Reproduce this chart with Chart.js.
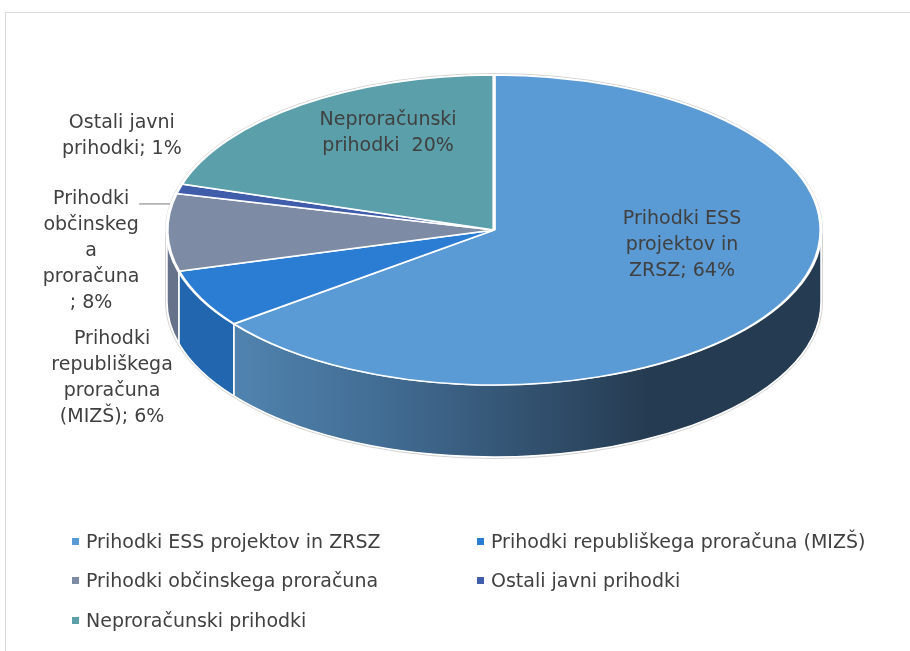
<!DOCTYPE html>
<html>
<head>
<meta charset="utf-8">
<script src="https://cdn.jsdelivr.net/npm/chart.js@4.4.1/dist/chart.umd.min.js"></script>
<style>
    body { margin: 0; background: #ffffff; }
    #wrap { position: relative; width: 910px; height: 651px; overflow: hidden; }
    #frame { position: absolute; left: 5px; top: 12px; width: 1000px; height: 1000px; border: 1.5px solid #d9d9d9; }
    #pieChart { position: absolute; left: 0; top: 0; }
    #legend { position: absolute; left: 0; top: 0; font-family: "DejaVu Sans", sans-serif; font-size: 19px; color: #404040; }
    .item { position: absolute; white-space: nowrap; line-height: 22px; }
    .box { position: absolute; width: 7px; height: 7px; left: -14px; top: 8px; }
</style>
</head>
<body>
<div id="wrap">
    <div id="frame"></div>
    <canvas id="pieChart" width="910" height="651"></canvas>
    <div id="legend"></div>
</div>
<script>
const categories = [
    "Prihodki ESS projektov in ZRSZ",
    "Prihodki republiškega proračuna (MIZŠ)",
    "Prihodki občinskega proračuna",
    "Ostali javni prihodki",
    "Neproračunski prihodki"
];
const values = [64, 6, 8, 1, 20];
// data label lines as wrapped in the original, {v} = value
const labelLines = [
    ["Prihodki ESS", "projektov in", "ZRSZ; {v}%"],
    ["Prihodki", "republiškega", "proračuna", "(MIZŠ); {v}%"],
    ["Prihodki", "občinskeg", "a", "proračuna", "; {v}%"],
    ["Ostali javni", "prihodki; {v}%"],
    ["Neproračunski", "prihodki  {v}%"]
];
const topColors = ["#5b9bd5", "#2b7cd3", "#7d8ba4", "#3f5dab", "#5a9fa9"];
const sideColors = [null, "#2266b0", "#65728a", "#2f4a8a", "#477f88"];

// where the tilted pie sits on the page
const pie = { cx: 494, cy: 230, rx: 327, ry: 155, depth: 72 };

// label anchors in units of rx / ry from the pie centre
const labelPos = [
    { dx: 0.575, dy: 0.10 },
    { dx: -1.168, dy: 0.955 },
    { dx: -1.232, dy: 0.135 },
    { dx: -1.138, dy: -0.606 },
    { dx: -0.324, dy: -0.626 }
];

const tiltPlugin = {
    id: "tilt",
    beforeDatasetsDraw(chart) {
        const ctx = chart.ctx;
        const arcs = chart.getDatasetMeta(0).data;
        const { cx, cy, rx, ry, depth } = pie;

        // side walls, only the front half is visible
        arcs.forEach((arc, i) => {
            const a0 = Math.max(arc.startAngle, 0);
            const a1 = Math.min(arc.endAngle, Math.PI);
            if (a1 <= a0) return;
            ctx.save();
            ctx.beginPath();
            ctx.ellipse(cx, cy, rx, ry, 0, a0, a1, false);
            ctx.ellipse(cx, cy + depth, rx, ry, 0, a1, a0, true);
            ctx.closePath();
            if (i === 0) {
                const g = ctx.createLinearGradient(200, 0, 650, 0);
                g.addColorStop(0, "#5389b6");
                g.addColorStop(0.45, "#40698f");
                g.addColorStop(1, "#253b51");
                ctx.fillStyle = g;
            } else {
                ctx.fillStyle = sideColors[i];
            }
            ctx.fill();
            ctx.strokeStyle = "#ffffff";
            ctx.lineWidth = 1.5;
            ctx.stroke();
            ctx.restore();
        });

        // faint outline of the whole body
        ctx.save();
        ctx.beginPath();
        ctx.ellipse(cx, cy, rx + 1.5, ry + 1.5, 0, Math.PI, 0, false);
        ctx.ellipse(cx, cy + depth, rx + 1.5, ry + 1.5, 0, 0, Math.PI, false);
        ctx.closePath();
        ctx.strokeStyle = "#d4d4d4";
        ctx.lineWidth = 1;
        ctx.stroke();
        ctx.restore();

        // map the flat pie onto the tilted ellipse
        const a = arcs[0];
        ctx.save();
        ctx.translate(cx, cy);
        ctx.scale(rx / a.outerRadius, ry / a.outerRadius);
        ctx.translate(-a.x, -a.y);
    },
    afterDatasetsDraw(chart) {
        chart.ctx.restore();
    },
    afterDraw(chart) {
        const ctx = chart.ctx;
        const { cx, cy, rx, ry } = pie;
        ctx.save();
        ctx.font = '19px "DejaVu Sans", sans-serif';
        ctx.fillStyle = "#404040";
        ctx.textAlign = "center";
        ctx.textBaseline = "middle";
        const lh = 26;
        labelLines.forEach((lines, i) => {
            const x = cx + labelPos[i].dx * rx;
            const y = cy + labelPos[i].dy * ry;
            const top = y - (lines.length - 1) * lh / 2;
            lines.forEach((t, k) => {
                ctx.fillText(t.replace("{v}", values[i]), x, top + k * lh);
            });
        });
        // leader line for the občinski label
        const lx = cx + labelPos[2].dx * rx;
        const ly = cy + labelPos[2].dy * ry - 2 * lh + 5;
        ctx.strokeStyle = "#a6a6a6";
        ctx.lineWidth = 1.5;
        ctx.beginPath();
        ctx.moveTo(lx + 48, ly);
        ctx.lineTo(cx - rx + 3, ly);
        ctx.stroke();
        ctx.restore();
    }
};

const ctx = document.getElementById("pieChart").getContext("2d");
new Chart(ctx, {
    type: "pie",
    data: {
        labels: categories,
        datasets: [{
            data: values,
            backgroundColor: topColors,
            borderColor: "#ffffff",
            borderWidth: 3
        }]
    },
    options: {
        responsive: false,
        animation: false,
        layout: { padding: 20 },
        plugins: {
            legend: { display: false },
            tooltip: { enabled: false }
        }
    },
    plugins: [tiltPlugin]
});

// two column legend like the original
const legend = document.getElementById("legend");
const colX = [86, 491];
const rowY = [530, 569, 609];
categories.forEach((name, i) => {
    const item = document.createElement("div");
    item.className = "item";
    item.style.left = colX[i % 2] + "px";
    item.style.top = rowY[Math.floor(i / 2)] + "px";
    const box = document.createElement("span");
    box.className = "box";
    box.style.background = topColors[i];
    item.appendChild(box);
    item.appendChild(document.createTextNode(name));
    legend.appendChild(item);
});
</script>
</body>
</html>
